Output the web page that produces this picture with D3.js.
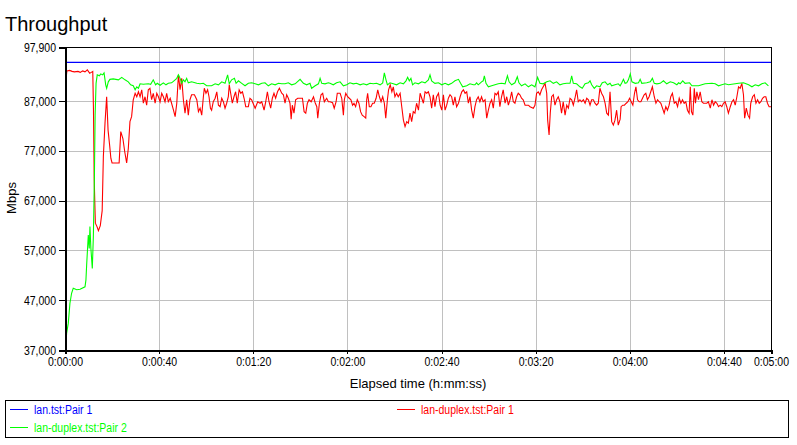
<!DOCTYPE html>
<html>
<head>
<meta charset="utf-8">
<script src="https://cdn.jsdelivr.net/npm/d3@7"></script>
<style>
  body { margin: 0; background: #fff; }
  svg { display: block; }
  .tick text, .narrow { font-family: "Liberation Sans", Arial, sans-serif; font-size: 12.5px; }
  .tick text { fill: #000; }
</style>
</head>
<body>
<svg width="797" height="445"></svg>
<script>
// values are Mbps / 1000 (axis labels multiply back)
var blueLine = [[0, 94.8], [300, 94.8]];

var redLine = [
  [0.4,91.3],[0.8,93.1],[2,93.2],[3,93.0],[4,92.9],[5.5,93.0],[6.5,92.8],[7.5,93.1],[8.5,92.9],[9.5,93.3],
  [10.5,92.6],[11.8,93.0],[12.1,85.2],[12.4,71.5],[12.9,62.5],[13.6,61.8],[14.2,61.0],[15.0,62.0],[15.8,65.0],[16.3,75.9],
  [17.0,82.6],[17.7,87.9],[18.3,81.2],[19.0,78.0],[19.5,75.5],[20.0,74.6],[23.0,74.6],[23.7,80.9],[24.6,79.5],[25.4,76.8],
  [26.2,74.6],[26.9,77.5],[27.6,82.9],[28.3,83.9],[29.0,87.3],[29.8,88.6],[30.5,87.9],[31.2,88.9],[31.9,87.9],[32.6,89.3],
  [33.3,86.6],[34.0,87.9],[34.7,86.2],[35.4,89.3],[36.1,89.6],[36.8,87.3],[37.5,88.6],[38.3,86.6],[39.0,88.6],[39.7,87.9],
  [40.4,86.9],[41.1,88.6],[41.8,87.9],[42.5,86.9],[43.2,88.6],[43.9,86.9],[44.7,87.6],[46.1,85.2],[46.8,83.9],[47.5,86.6],
  [48.2,92.3],[48.9,89.3],[49.6,91.6],[50.3,87.3],[51.0,84.6],[51.7,87.3],[52.4,84.2],[53.1,87.3],[53.8,88.3],[55.0,88.3],
  [56.0,87.3],[56.7,84.9],[57.4,85.6],[58.1,84.2],[58.8,87.9],[59.2,89.6],[59.9,88.6],[60.6,89.3],[61.2,87.9],[61.8,85.6],
  [62.3,85.2],[63.0,86.9],[63.8,87.6],[64.5,88.9],[65.2,86.2],[65.9,85.9],[66.6,87.6],[67.3,86.9],[68.0,85.6],[68.7,86.6],
  [69.4,87.9],[69.8,90.3],[70.4,88.6],[71.1,86.6],[71.8,87.9],[72.5,88.9],[73.2,86.6],[74.0,89.3],[74.7,88.6],[75.4,88.9],
  [76.1,87.6],[76.8,85.9],[77.9,85.9],[78.6,87.6],[79.3,87.3],[80.8,85.6],[81.9,86.9],[82.9,86.6],[83.6,86.9],[84.6,85.2],
  [85.3,86.9],[86.0,88.9],[86.7,86.9],[87.4,85.6],[88.1,87.6],[88.8,88.6],[89.5,87.6],[90.3,88.9],[91.1,89.6],[92.1,88.6],
  [92.8,88.3],[93.5,86.6],[94.2,88.3],[94.9,87.6],[95.6,86.6],[96.1,83.4],[96.6,86.2],[97.3,84.6],[98.0,87.3],[98.9,87.6],
  [99.9,87.6],[100.9,87.6],[101.6,84.9],[102.3,84.6],[103.0,86.6],[103.7,87.3],[104.6,86.9],[105.6,87.9],[106.3,86.7],[107.0,85.9],
  [107.4,83.6],[108.1,86.6],[108.8,88.3],[109.5,88.6],[110.2,86.9],[111.2,87.6],[111.9,86.9],[112.6,86.9],[113.7,86.7],[114.4,85.6],
  [115.2,86.9],[115.7,88.6],[116.9,88.6],[117.6,87.6],[118.3,84.2],[118.7,87.3],[119.3,88.6],[120.1,87.9],[120.8,87.6],[121.5,87.3],
  [122.2,86.2],[122.8,86.6],[123.5,85.9],[124.2,87.3],[124.9,86.6],[125.6,84.9],[126.3,84.2],[127.1,83.9],[127.8,83.6],[128.2,87.3],
  [128.6,88.6],[129.3,85.9],[130.0,85.9],[130.7,86.6],[131.4,86.6],[132.2,87.6],[132.9,89.3],[133.6,87.9],[134.3,86.9],[135.0,87.9],
  [135.7,86.6],[136.3,83.6],[137.0,87.3],[137.5,89.3],[138.2,90.3],[138.9,88.9],[139.5,89.9],[140.2,87.9],[140.9,88.6],[141.6,87.9],
  [142.4,88.6],[143.1,85.9],[143.8,83.2],[144.5,81.9],[145.2,82.9],[145.9,82.6],[146.6,84.6],[147.3,82.9],[148.0,84.9],[148.7,84.6],
  [149.4,86.6],[150.2,85.2],[150.9,88.6],[151.6,87.6],[152.3,86.6],[153.0,88.9],[153.7,88.6],[154.4,88.9],[155.1,87.9],[155.8,85.6],
  [156.5,88.3],[157.2,85.9],[157.9,87.9],[158.7,88.6],[159.4,86.2],[160.1,85.2],[160.8,88.3],[161.5,85.2],[162.2,86.2],[162.9,87.6],
  [163.6,88.3],[164.3,87.9],[165.0,86.2],[165.7,87.9],[166.4,85.9],[167.2,86.6],[167.9,87.9],[168.6,88.9],[169.3,89.3],[170.0,88.6],
  [170.7,88.9],[171.4,86.6],[172.1,87.9],[172.8,85.2],[173.5,83.6],[174.2,85.9],[174.9,87.3],[175.6,87.9],[176.3,86.9],[177.0,87.9],
  [177.7,86.9],[178.5,87.3],[179.2,83.6],[179.9,85.2],[180.6,86.6],[181.3,87.3],[182.0,85.6],[182.7,88.6],[183.4,88.3],[184.1,88.9],
  [184.8,85.9],[185.5,87.9],[186.2,89.3],[187.0,86.6],[187.7,87.9],[188.4,86.2],[189.1,87.3],[189.8,88.9],[190.5,86.9],[191.2,86.6],
  [191.9,87.9],[192.6,88.6],[193.3,88.3],[194.0,87.6],[194.7,87.3],[195.5,86.2],[196.9,86.2],[197.6,85.9],[199.0,85.6],[199.7,86.2],
  [200.4,88.6],[201.1,88.9],[201.8,88.3],[202.5,89.3],[203.2,89.9],[204.0,90.6],[204.7,88.6],[205.1,83.2],[205.7,80.2],[206.2,84.6],
  [206.8,87.9],[207.5,88.3],[208.2,86.2],[208.9,87.3],[209.6,87.9],[210.3,86.9],[211.0,84.6],[211.7,86.9],[212.5,84.2],[213.2,86.2],
  [213.9,85.6],[214.6,87.6],[215.3,87.3],[216.0,86.2],[216.7,87.6],[217.4,89.3],[218.1,86.9],[218.8,87.3],[219.5,86.9],[220.3,87.3],
  [221.0,86.6],[221.7,87.6],[222.4,87.3],[223.1,86.2],[223.8,87.3],[224.5,87.3],[225.2,86.6],[225.9,86.2],[226.6,86.6],[227.3,89.6],
  [228.0,88.6],[228.8,87.9],[229.5,86.6],[230.2,84.6],[230.9,84.2],[231.6,88.9],[232.3,82.9],[233.0,82.2],[233.7,83.2],[234.4,85.2],
  [235.1,82.2],[235.9,83.4],[236.3,85.9],[237.0,86.2],[237.7,86.2],[238.5,86.6],[239.2,86.9],[239.9,87.6],[240.6,86.9],[241.3,86.2],
  [242.0,88.6],[242.6,89.9],[243.3,87.3],[244.0,86.9],[244.7,86.9],[245.4,87.6],[246.1,88.3],[246.8,88.6],[247.5,87.3],[248.2,87.9],
  [248.9,88.9],[249.6,89.9],[250.4,87.9],[251.1,86.6],[251.8,87.3],[252.5,86.9],[253.2,86.6],[253.9,85.6],[254.6,84.6],[255.3,85.9],
  [256.0,85.2],[256.7,86.2],[257.4,87.9],[258.1,88.6],[258.9,86.6],[259.6,86.9],[260.3,85.9],[261.0,87.6],[261.7,86.6],[262.4,87.3],
  [263.1,86.6],[263.8,86.9],[264.5,85.2],[265.2,84.6],[265.7,89.9],[266.2,84.9],[266.8,84.2],[267.4,89.6],[267.9,86.6],[268.5,88.9],
  [269.2,87.3],[269.9,88.9],[270.6,86.9],[271.3,86.6],[272.7,86.6],[273.4,86.9],[274.2,85.6],[274.9,87.3],[275.6,86.2],[276.3,86.9],
  [277.0,86.6],[277.7,85.9],[278.4,86.2],[279.1,85.9],[279.8,86.6],[280.5,86.9],[281.2,85.9],[281.9,84.6],[282.7,85.9],[283.4,86.9],
  [284.1,87.3],[284.8,86.2],[285.5,87.9],[286.2,89.9],[286.9,89.6],[287.6,90.6],[288.3,88.3],[288.8,83.6],[289.5,85.6],[290.2,84.2],
  [290.9,83.6],[291.4,86.6],[292.2,87.9],[292.9,88.3],[293.6,86.6],[294.3,87.3],[295.0,86.6],[295.7,86.9],[296.4,87.6],[297.1,87.9],
  [297.8,87.9],[298.5,86.6],[299.2,85.9],[300.0,85.9]
];

var greenLine = [
  [0.4,38.3],[0.7,40.4],[1.4,42.4],[2.1,46.4],[2.8,48.4],[3.5,49.4],[5.0,49.1],[6.4,49.2],[8.5,49.7],[8.9,51.1],
  [9.2,54.1],[9.9,60.1],[10.3,57.4],[10.6,61.8],[11.0,57.4],[11.6,53.4],[12.05,59.8],[12.5,71.8],[12.8,84.2],[13.2,90.6],
  [13.7,92.3],[14.6,92.1],[15.2,92.5],[16.0,92.3],[16.6,92.7],[17.3,90.3],[17.7,89.6],[18.4,90.9],[19.1,91.4],[20.5,91.5],
  [22.7,91.3],[24.1,91.8],[25.5,91.3],[26.9,90.9],[27.9,90.3],[29.0,90.1],[29.8,89.3],[30.5,89.9],[31.2,89.6],[31.9,90.5],
  [33.3,90.4],[35.4,90.5],[36.4,90.4],[37.5,91.3],[38.5,90.3],[39.2,90.6],[40.4,90.2],[41.8,90.7],[42.9,90.3],[43.9,90.6],
  [45.3,90.7],[46.3,91.1],[47.5,91.6],[48.2,92.3],[48.9,91.6],[49.6,90.6],[50.3,91.3],[51.0,90.9],[51.7,91.6],[52.4,90.7],
  [53.8,90.9],[56.0,90.6],[57.4,90.5],[58.8,90.6],[60.2,90.1],[62.3,90.1],[63.8,90.5],[65.2,90.3],[66.6,90.9],[68.0,90.6],
  [69.1,92.3],[69.8,90.5],[70.8,91.3],[72.0,91.6],[72.7,90.6],[73.7,91.1],[75.1,90.6],[76.5,90.1],[77.9,90.6],[79.3,90.7],
  [80.8,90.5],[82.2,90.3],[83.6,90.6],[85.0,90.7],[86.4,90.1],[87.8,90.5],[89.3,90.3],[90.7,90.6],[92.1,90.5],[93.5,90.5],
  [94.9,90.7],[96.3,90.3],[97.8,90.5],[99.9,91.4],[101.3,90.6],[102.7,90.3],[104.1,90.6],[104.8,89.6],[106.3,90.1],[107.7,90.5],
  [108.4,91.6],[109.1,90.6],[110.5,90.5],[111.9,90.7],[112.6,90.6],[114.0,90.3],[115.4,90.7],[116.9,90.9],[118.3,90.1],[119.7,90.3],
  [121.1,90.7],[122.5,90.5],[123.9,90.6],[125.4,90.3],[126.8,90.5],[128.2,90.3],[129.6,90.6],[131.0,90.5],[132.4,90.6],[133.9,90.3],
  [135.0,90.7],[135.7,92.7],[136.4,91.3],[137.0,90.3],[138.1,90.7],[139.5,90.5],[140.9,90.3],[142.4,90.7],[143.8,90.5],[144.9,91.1],
  [145.6,91.8],[146.3,91.1],[147.0,91.6],[147.7,90.3],[148.7,90.7],[150.2,90.5],[151.6,90.9],[153.0,90.7],[154.4,91.3],[155.1,92.3],
  [155.8,91.1],[157.2,90.6],[158.7,90.7],[160.1,90.3],[161.5,90.6],[162.9,90.3],[164.3,90.6],[165.7,91.1],[167.2,91.4],[168.1,90.6],
  [169.0,89.9],[170.7,90.1],[172.1,90.5],[173.5,90.3],[174.2,90.3],[174.9,90.7],[175.6,90.3],[176.3,90.6],[177.0,90.9],[177.7,91.1],
  [178.2,92.1],[178.9,90.6],[179.9,89.9],[181.3,90.1],[182.7,90.3],[184.1,90.5],[185.5,90.6],[187.0,90.5],[188.0,92.1],[188.7,90.9],
  [189.8,90.3],[191.2,90.7],[192.2,91.9],[192.9,90.7],[194.0,90.1],[195.5,90.5],[196.9,89.9],[198.3,90.3],[199.7,89.9],[200.8,91.8],
  [201.8,90.6],[203.2,90.5],[204.7,90.9],[206.1,91.1],[207.5,90.6],[208.9,90.9],[210.3,90.3],[211.7,90.5],[213.2,90.6],[214.6,90.6],
  [215.3,92.1],[216.0,90.6],[217.4,90.5],[218.8,89.9],[219.8,89.6],[221.0,90.5],[222.4,90.7],[223.1,91.1],[223.8,90.3],[224.9,89.6],
  [225.9,90.1],[227.3,89.9],[228.3,90.7],[229.5,90.9],[230.6,90.3],[231.6,90.6],[232.3,90.1],[233.7,90.3],[235.1,90.5],[235.9,90.1],
  [236.6,90.7],[237.3,91.4],[238.0,90.6],[238.7,90.7],[239.4,91.3],[240.2,92.5],[240.9,90.9],[242.3,90.6],[243.7,90.7],[244.4,91.4],
  [245.1,90.6],[247.2,90.7],[248.7,90.9],[249.6,91.6],[250.4,90.6],[251.5,90.5],[252.9,90.6],[254.3,91.1],[255.7,90.5],[257.2,90.9],
  [258.6,90.7],[260.0,90.3],[260.7,90.7],[261.4,90.5],[262.5,91.1],[263.5,90.6],[265.4,90.7],[266.4,90.1],[269.2,90.1],[270.6,90.3],
  [272.0,90.5],[274.9,90.6],[276.3,90.5],[277.7,90.1],[279.1,90.3],[280.5,90.5],[281.9,90.3],[284.8,90.5],[286.2,90.6],[288.3,90.7],
  [290.5,90.3],[291.9,89.9],[293.3,90.3],[294.7,90.1],[296.1,90.5],[297.5,90.7],[298.9,90.1]
];

var yTicks = [37, 47, 57, 67, 77, 87, 97.9];
var xTicks = [0, 40, 80, 120, 160, 200, 240, 280, 300];
var seriesNames = ["lan.tst:Pair 1", "lan-duplex.tst:Pair 1", "lan-duplex.tst:Pair 2"];
var seriesColors = ["#0000ff", "#ff0000", "#00ff00"];

var svg = d3.select("svg");
var padL = 65, padR = 771, padT = 47, padB = 350;

var x = d3.scaleLinear().domain([0, 300]).range([padL, padR]);
var y = d3.scaleLinear().domain([37, 97.9]).range([padB, padT]);

function hms(s) {
  var h = Math.floor(s / 3600), m = Math.floor(s % 3600 / 60), sec = s % 60;
  return h + ":" + String(m).padStart(2, "0") + ":" + String(sec).padStart(2, "0");
}

// squeeze text horizontally to mimic the narrow dialog font
function narrow(sel, k) {
  sel.each(function() {
    var w = this.getComputedTextLength();
    d3.select(this).attr("textLength", w * k).attr("lengthAdjust", "spacingAndGlyphs");
  });
}

// title
svg.append("text").attr("x", 5).attr("y", 31)
  .style("font-family", "Liberation Sans, Arial, sans-serif").style("font-size", "20px")
  .text("Throughput");

// grid
svg.append("g").attr("transform", "translate(0," + padB + ")")
  .call(d3.axisBottom(x).tickValues(xTicks.slice(1, -1)).tickSize(-(padB - padT)).tickFormat(""))
  .call(function(g) { g.select(".domain").remove(); })
  .selectAll("line").attr("stroke", "#c0c0c0").attr("shape-rendering", "crispEdges");
svg.append("g").attr("transform", "translate(" + padL + ",0)")
  .call(d3.axisLeft(y).tickValues(yTicks.slice(1, -1)).tickSize(-(padR - padL)).tickFormat(""))
  .call(function(g) { g.select(".domain").remove(); })
  .selectAll("line").attr("stroke", "#c0c0c0").attr("shape-rendering", "crispEdges");

// frame top/right
svg.append("path")
  .attr("d", "M" + padL + "," + (padT + 0.5) + "H" + (padR + 0.5) + "V" + padB)
  .attr("fill", "none").attr("stroke", "#000").attr("shape-rendering", "crispEdges");

// data lines
var line = d3.line().x(function(d) { return x(d[0]); }).y(function(d) { return y(d[1]); });
[blueLine, redLine, greenLine].forEach(function(s, i) {
  svg.append("path").datum(s).attr("d", line)
    .attr("fill", "none").attr("stroke", seriesColors[i]).attr("stroke-width", 1.1);
});

// axes
var yAxis = svg.append("g").attr("transform", "translate(" + padL + ",0)")
  .call(d3.axisLeft(y).tickValues(yTicks).tickSize(6).tickPadding(3)
    .tickFormat(function(d) { return d3.format(",")(Math.round(d * 1000)); }));
yAxis.select(".domain").attr("stroke-width", 2).attr("shape-rendering", "crispEdges");
yAxis.selectAll(".tick line").attr("shape-rendering", "crispEdges");
yAxis.selectAll(".tick text").call(narrow, 0.84);

var xAxis = svg.append("g").attr("transform", "translate(0," + padB + ")")
  .call(d3.axisBottom(x).tickValues(xTicks).tickSize(4).tickPadding(3).tickFormat(hms));
xAxis.select(".domain").attr("stroke-width", 2).attr("shape-rendering", "crispEdges");
xAxis.selectAll(".tick line").attr("shape-rendering", "crispEdges");
xAxis.selectAll(".tick text").call(narrow, 0.84);

// axis titles
svg.append("text").attr("x", (padL + padR) / 2).attr("y", 388).attr("text-anchor", "middle")
  .style("font-family", "Liberation Sans, Arial, sans-serif").style("font-size", "13px")
  .text("Elapsed time (h:mm:ss)");
svg.append("text").attr("transform", "translate(16,198) rotate(-90)").attr("text-anchor", "middle")
  .style("font-family", "Liberation Sans, Arial, sans-serif").style("font-size", "13px")
  .text("Mbps");

// legend
svg.append("rect").attr("x", 5.5).attr("y", 400.5).attr("width", 783).attr("height", 37)
  .attr("fill", "none").attr("stroke", "#000").attr("shape-rendering", "crispEdges");
var legendPos = [[10, 409], [397, 409], [10, 427]];
seriesNames.forEach(function(name, i) {
  var g = svg.append("g").attr("transform", "translate(" + legendPos[i][0] + "," + legendPos[i][1] + ")");
  g.append("line").attr("x1", 0).attr("x2", 18).attr("y1", 0.5).attr("y2", 0.5)
    .attr("stroke", seriesColors[i]).attr("shape-rendering", "crispEdges");
  g.append("text").attr("class", "narrow").attr("x", 24).attr("y", 5)
    .attr("fill", seriesColors[i])
    .text(name)
    .call(narrow, 0.84);
});
</script>
</body>
</html>
